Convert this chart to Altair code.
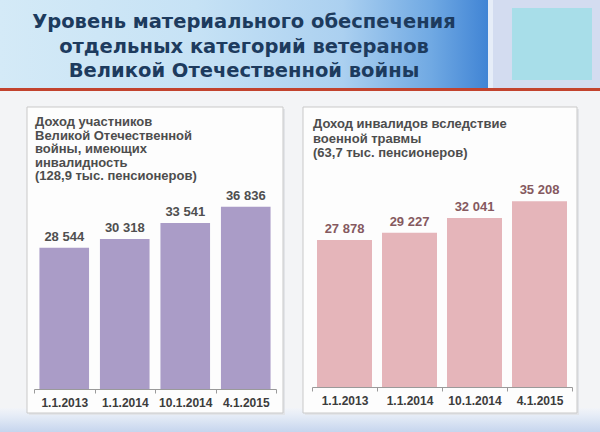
import altair as alt
import pandas as pd

# ---- data ----
dates = ["1.1.2013", "1.1.2014", "10.1.2014", "4.1.2015"]
income_participants = [28544, 30318, 33541, 36836]   # left panel
income_war_injury = [27878, 29227, 32041, 35208]     # right panel

title_lines = [
    "Уровень материального обеспечения",
    "отдельных категорий ветеранов",
    "Великой Отечественной войны",
]
left_title = [
    "Доход участников",
    "Великой Отечественной",
    "войны, имеющих",
    "инвалидность",
    "(128,9 тыс. пенсионеров)",
]
right_title = [
    "Доход инвалидов вследствие",
    "военной травмы",
    "(63,7 тыс. пенсионеров)",
]


def fmt(v):
    return f"{v:,}".replace(",", " ")


left_df = pd.DataFrame({"date": dates, "value": income_participants,
                        "label": [fmt(v) for v in income_participants]})
right_df = pd.DataFrame({"date": dates, "value": income_war_injury,
                         "label": [fmt(v) for v in income_war_injury]})

one = alt.Data(values=[{"k": 1}])
FONT = "Liberation Sans"


def rect(x, x2, y, y2, **kw):
    return alt.Chart(one).mark_rect(**kw).encode(
        x=alt.value(x), x2=alt.value(x2), y=alt.value(y), y2=alt.value(y2))


def grad(stops, vertical=False):
    return alt.LinearGradient(
        gradient="linear",
        stops=[alt.GradientStop(offset=o, color=c) for o, c in stops],
        x1=0, y1=0, x2=0 if vertical else 1, y2=1 if vertical else 0)


# ---- decorations ----
bottom_band = rect(0, 600, 408, 432, fill=grad(
    [(0, "#f2f4f8"), (0.35, "#e4ebf6"), (1, "#c6d5ee")], vertical=True))
header = rect(0, 490, 0, 88, fill=grad(
    [(0, "#d4eaf7"), (0.4, "#c6e2f5"), (0.7, "#abd0f0"), (0.88, "#70a9e3"), (1, "#3f83d4")]))
header_strip = rect(488, 493, 0, 88, fill="#e6edf8")
header_right = rect(493, 600, 0, 88, fill="#d3dcf0")
cyan_box = rect(512, 592, 8, 80, fill="#a8dee9")
red_line = rect(0, 600, 88, 91, fill="#c2432e")

shadow_l = rect(29, 285, 109, 415, fill="#e2e4e8")
shadow_r = rect(305, 579, 109, 415, fill="#e2e4e8")
card_l = rect(27, 283, 107, 413, fill="#fdfdfd", stroke="#c9c9c9", strokeWidth=1)
card_r = rect(303, 577, 107, 413, fill="#fdfdfd", stroke="#c9c9c9", strokeWidth=1)

title_txt = alt.Chart(one).mark_text(
    font="DejaVu Sans", fontWeight="bold", fontSize=19.5, color="#1d3b5e",
    align="center", baseline="top", lineHeight=24.5
).encode(x=alt.value(244), y=alt.value(13), text=alt.value(title_lines))

ltitle_txt = alt.Chart(one).mark_text(
    font=FONT, fontWeight="bold", fontSize=13, color="#4d4d4d",
    align="left", baseline="top", lineHeight=13.5
).encode(x=alt.value(35), y=alt.value(116), text=alt.value(left_title))

rtitle_txt = alt.Chart(one).mark_text(
    font=FONT, fontWeight="bold", fontSize=13, color="#4d4d4d",
    align="left", baseline="top", lineHeight=14.5
).encode(x=alt.value(313), y=alt.value(118), text=alt.value(right_title))


# ---- bar panels ----
def panel(df, xrange, yrange, offset, bar_color, label_color, band):
    xenc = alt.X("date:N", sort=dates,
                 scale=alt.Scale(domain=dates, range=xrange, paddingInner=0, paddingOuter=0),
                 axis=alt.Axis(orient="bottom", offset=offset, title=None, tickBand="extent",
                               domainColor="#9a9a9a", tickColor="#9a9a9a", tickSize=4,
                               labelFont=FONT, labelFontSize=12, labelFontWeight="bold",
                               labelColor="#3c3c3c", labelPadding=4, labelAngle=0, grid=False,
                               zindex=1))
    yenc = alt.Y("value:Q", scale=alt.Scale(domain=[0, 40000], range=yrange), axis=None)
    base = alt.Chart(df)
    bars = base.mark_bar(color=bar_color, width=alt.RelativeBandSize(band)).encode(x=xenc, y=yenc)
    labels = base.mark_text(font=FONT, fontWeight="bold", fontSize=13, color=label_color,
                            baseline="middle", dy=-11).encode(x=xenc, y=yenc, text="label:N")
    return alt.layer(bars, labels)


left = panel(left_df, [34, 276], [389, 191], -43, "#aa9cc7", "#4f4f4f", 0.82)
right = panel(right_df, [312, 572], [387, 176], -45, "#e5b5ba", "#85595f", 0.846)

chart = alt.layer(
    bottom_band, header, header_strip, header_right, cyan_box, red_line,
    shadow_l, shadow_r, card_l, card_r, title_txt, ltitle_txt, rtitle_txt,
    left, right
).resolve_scale(x="independent", y="independent").resolve_axis(x="independent").properties(
    width=600, height=432, padding=0, background="#f3f4f6",
    autosize=alt.AutoSizeParams(type="none")
).configure_view(stroke=None)

chart.save("out.html", embed_options={"renderer": "svg", "actions": False})
